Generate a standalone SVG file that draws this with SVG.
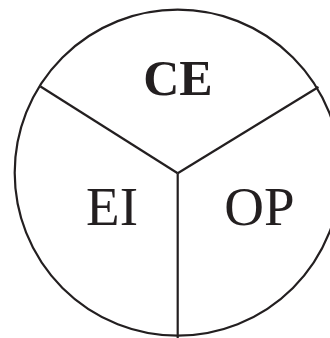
<svg xmlns="http://www.w3.org/2000/svg" width="330" height="338" viewBox="0 0 330 338">
<style>
.ln{fill:none;stroke:#231f20;stroke-width:2.2}
.t{font-family:"Liberation Serif",serif;fill:#231f20;text-anchor:middle}
</style>
<rect width="330" height="338" fill="#fff"/>
<g id="circle"><circle class="ln" cx="177.7" cy="172.7" r="163"/></g>
<g id="connectors">
<line class="ln" x1="177.7" y1="173.3" x2="40.5" y2="86.5"/>
<line class="ln" x1="177.7" y1="173.3" x2="318.5" y2="87"/>
<line class="ln" x1="177.7" y1="173.3" x2="177.7" y2="340"/>
</g>
<g id="CE"><text class="t" x="178" y="95" font-size="50" font-weight="bold">CE</text></g>
<g id="EI"><text class="t" x="112" y="225" font-size="55">EI</text></g>
<g id="OP"><text class="t" x="259.5" y="225" font-size="55">OP</text></g>
</svg>
